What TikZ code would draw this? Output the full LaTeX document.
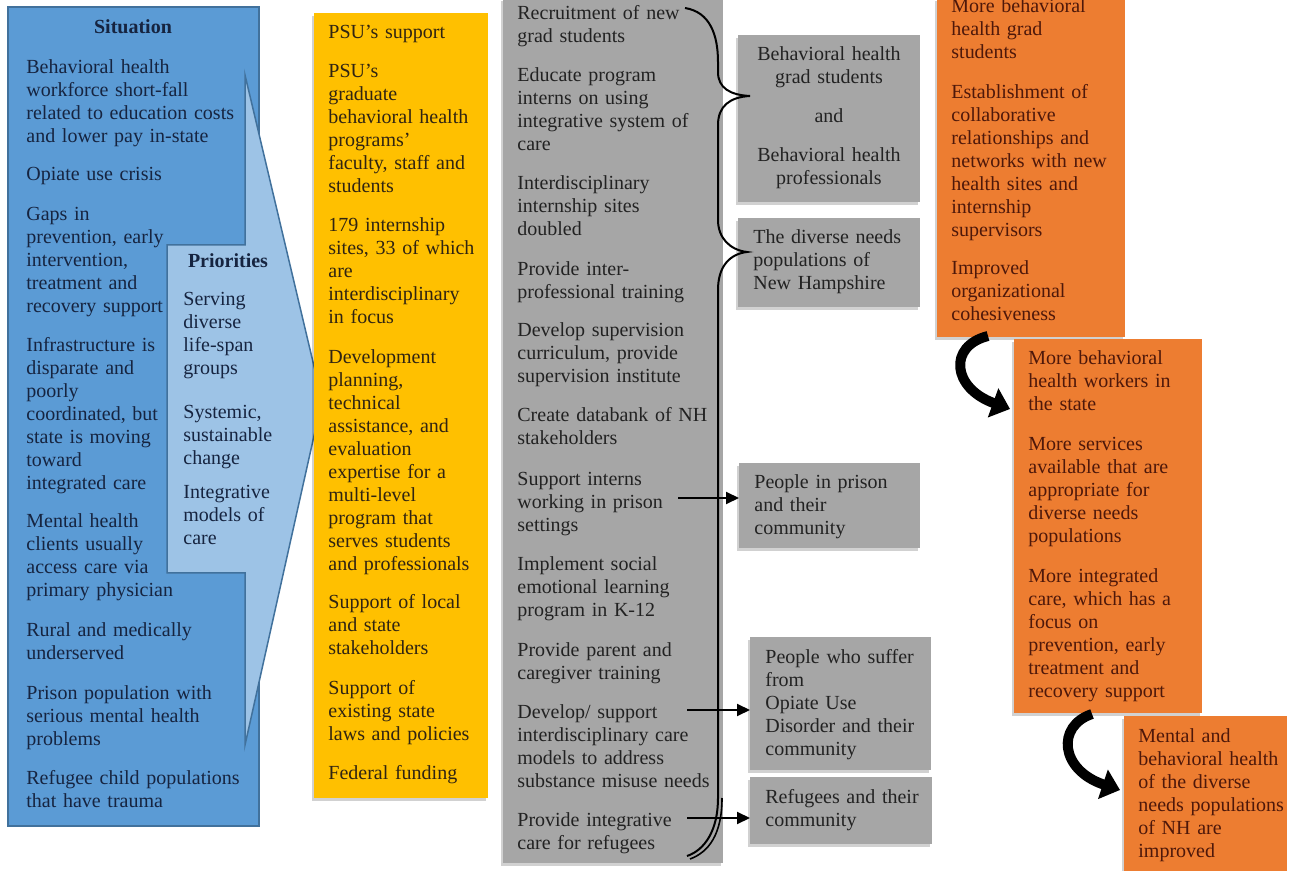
\documentclass[tikz,border=0pt]{standalone}
\usepackage{fontspec}
\setmainfont{Liberation Serif}
\usetikzlibrary{arrows.meta,fit,shadows}

\definecolor{sitblue}{RGB}{91,155,213}
\definecolor{prilight}{RGB}{157,195,230}
\definecolor{bluedge}{RGB}{65,113,156}
\definecolor{psuyellow}{RGB}{255,192,0}
\definecolor{actgray}{RGB}{166,166,166}
\definecolor{outorange}{RGB}{237,125,49}
\definecolor{navytext}{RGB}{22,36,64}
\definecolor{browntext}{RGB}{48,36,18}
\definecolor{graytext}{RGB}{34,34,34}
\definecolor{rusttext}{RGB}{78,24,10}

\tikzset{
  box/.style={inner sep=0pt, outer sep=0pt},
  shbox/.style={box, drop shadow={shadow xshift=-1pt, shadow yshift=-1.5pt,
    fill=black, opacity=0.18}},
  txt/.style={anchor=base west, inner sep=0pt, text width=125pt, align=left,
    font=\fontsize{10}{11.5}\selectfont},
  head/.style={anchor=base, inner sep=0pt, font=\fontsize{10}{11.5}\selectfont\bfseries,
    text=navytext},
  conn/.style={line width=1pt, -{Triangle[length=6.5pt,width=6pt]}},
  bigarr/.style={line width=5pt, -{Triangle[length=9pt,width=15pt]}},
}

\begin{document}
\begin{tikzpicture}[x=0.5pt,y=-0.5pt]
  \useasboundingbox (0,0) rectangle (1291,871);

  % boxes
  \node[box, draw=bluedge, line width=0.75pt, fill=sitblue, fit={(8,7) (259,826)}] (sit) {};
  \draw[draw=bluedge, line width=0.75pt, fill=prilight] (167,245) -- (245,245) -- (245,75)
    -- (322,400) -- (245,745) -- (245,573) -- (167,573) -- cycle;
  \node[shbox, fill=psuyellow, fit={(314,13) (488,798)}] (psu) {};
  \node[shbox, fill=actgray, fit={(503,-2) (723,863)}] (act) {};
  \node[shbox, fill=actgray, fit={(738,35) (920,202)}] (grad) {};
  \node[shbox, fill=actgray, fit={(738,218) (920,307)}] (divers) {};
  \node[shbox, fill=actgray, fit={(739,463) (920,548)}] (prison) {};
  \node[shbox, fill=actgray, fit={(750,637) (931,770)}] (opiate) {};
  \node[shbox, fill=actgray, fit={(750,777) (932,844)}] (refug) {};
  \node[shbox, fill=outorange, fit={(937,-2) (1125,337)}] (shortt) {};
  \node[shbox, fill=outorange, fit={(1014,339) (1202,713)}] (midt) {};
  \node[shbox, fill=outorange, fit={(1124,716) (1287,873)}] (longt) {};

  % brace
  \draw[line width=1pt] (685,8) .. controls (710,12) and (718,35) .. (718,62) -- (718,72)
    .. controls (718,88) and (730,95) .. (750,96) .. controls (730,97) and (718,106) .. (718,125)
    -- (718,220) .. controls (718,238) and (730,250) .. (747,252)
    .. controls (730,254) and (718,266) .. (718,290) -- (718,798)
    .. controls (718,830) and (705,850) .. (687,856);
  \draw[line width=0.8pt] (722,798) .. controls (722,834) and (709,852) .. (690,859);

  % connectors
  \coordinate (pr) at (678,498);
  \coordinate (od) at (687,710);
  \coordinate (rf) at (687,818);
  \draw[conn] (pr) -- (pr -| prison.west);
  \draw[conn] (od) -- (od -| opiate.west);
  \draw[conn] (rf) -- (rf -| refug.west);
  \draw[bigarr] (988,336) .. controls (948,346) and (952,388) .. (1010,409);
  \draw[bigarr] (1092,714) .. controls (1056,726) and (1060,770) .. (1120,790);

  % situation
  \node[head] (sith) at (133,34) {Situation};
  \node[txt, text=navytext] (s1) at (26,74)
    {Behavioral health\\workforce short-fall\\related to education costs\\and lower pay in-state};
  \node[txt, text=navytext] (s2) at (26,181) {Opiate use crisis};
  \node[txt, text=navytext] (s3) at (26,221)
    {Gaps in\\prevention, early\\intervention,\\treatment and\\recovery support};
  \node[txt, text=navytext] (s4) at (26,352)
    {Infrastructure is\\disparate and\\poorly\\coordinated, but\\state is moving\\toward\\integrated care};
  \node[txt, text=navytext] (s5) at (26,528)
    {Mental health\\clients usually\\access care via\\primary physician};
  \node[txt, text=navytext] (s6) at (26,636) {Rural and medically\\underserved};
  \node[txt, text=navytext] (s7) at (26,699)
    {Prison population with\\serious mental health\\problems};
  \node[txt, text=navytext] (s8) at (26,784) {Refugee child populations\\that have trauma};

  % priorities
  \node[head] (prih) at (228,268) {Priorities};
  \node[txt, text=navytext] (p1) at (183,306) {Serving\\diverse\\life-span\\groups};
  \node[txt, text=navytext] (p2) at (183,419) {Systemic,\\sustainable\\change};
  \node[txt, text=navytext] (p3) at (183,499) {Integrative\\models of\\care};

  % inputs
  \node[txt, text=browntext] (y1) at (328,39) {PSU's support};
  \node[txt, text=browntext] (y2) at (328,78)
    {PSU's\\graduate\\behavioral health\\programs'\\faculty, staff and\\students};
  \node[txt, text=browntext] (y3) at (328,232)
    {179 internship\\sites, 33 of which\\are\\interdisciplinary\\in focus};
  \node[txt, text=browntext] (y4) at (328,364)
    {Development\\planning,\\technical\\assistance, and\\evaluation\\expertise for a\\multi-level\\program that\\serves students\\and professionals};
  \node[txt, text=browntext] (y5) at (328,609) {Support of local\\and state\\stakeholders};
  \node[txt, text=browntext] (y6) at (328,694) {Support of\\existing state\\laws and policies};
  \node[txt, text=browntext] (y7) at (328,779) {Federal funding};

  % activities
  \node[txt, text=graytext] (g1) at (517,20) {Recruitment of new\\grad students};
  \node[txt, text=graytext] (g2) at (517,82)
    {Educate program\\interns on using\\integrative system of\\care};
  \node[txt, text=graytext] (g3) at (517,190) {Interdisciplinary\\internship sites\\doubled};
  \node[txt, text=graytext] (g4) at (517,276) {Provide inter-\\professional training};
  \node[txt, text=graytext] (g5) at (517,337)
    {Develop supervision\\curriculum, provide\\supervision institute};
  \node[txt, text=graytext] (g6) at (517,422) {Create databank of NH\\stakeholders};
  \node[txt, text=graytext] (g7) at (517,486) {Support interns\\working in prison\\settings};
  \node[txt, text=graytext] (g8) at (517,571)
    {Implement social\\emotional learning\\program in K-12};
  \node[txt, text=graytext] (g9) at (517,656) {Provide parent and\\caregiver training};
  \node[txt, text=graytext] (g10) at (517,718)
    {Develop/ support\\interdisciplinary care\\models to address\\substance misuse needs};
  \node[txt, text=graytext] (g11) at (517,826) {Provide integrative\\care for refugees};

  % participants
  \node[txt, anchor=base, align=center, text width=88pt, text=graytext] (a1) at (829,61)
    {Behavioral health\\grad students};
  \node[txt, anchor=base, align=center, text width=88pt, text=graytext] (a2) at (829,123) {and};
  \node[txt, anchor=base, align=center, text width=88pt, text=graytext] (a3) at (829,162)
    {Behavioral health\\professionals};
  \node[txt, text=graytext] (b1) at (753,244) {The diverse needs\\populations of\\New Hampshire};
  \node[txt, text=graytext] (c1) at (754,489) {People in prison\\and their\\community};
  \node[txt, text=graytext] (d1) at (765,663)
    {People who suffer\\from\\Opiate Use\\Disorder and their\\community};
  \node[txt, text=graytext] (e1) at (765,803) {Refugees and their\\community};

  % outcomes
  \node[txt, text=rusttext] (o1) at (951,13) {More behavioral\\health grad\\students};
  \node[txt, text=rusttext] (o2) at (951,99)
    {Establishment of\\collaborative\\relationships and\\networks with new\\health sites and\\internship\\supervisors};
  \node[txt, text=rusttext] (o3) at (951,275) {Improved\\organizational\\cohesiveness};
  \node[txt, text=rusttext] (o4) at (1028,365) {More behavioral\\health workers in\\the state};
  \node[txt, text=rusttext] (o5) at (1028,451)
    {More services\\available that are\\appropriate for\\diverse needs\\populations};
  \node[txt, text=rusttext] (o6) at (1028,582)
    {More integrated\\care, which has a\\focus on\\prevention, early\\treatment and\\recovery support};
  \node[txt, text=rusttext] (o7) at (1138,742)
    {Mental and\\behavioral health\\of the diverse\\needs populations\\of NH are\\improved};
\end{tikzpicture}
\end{document}
